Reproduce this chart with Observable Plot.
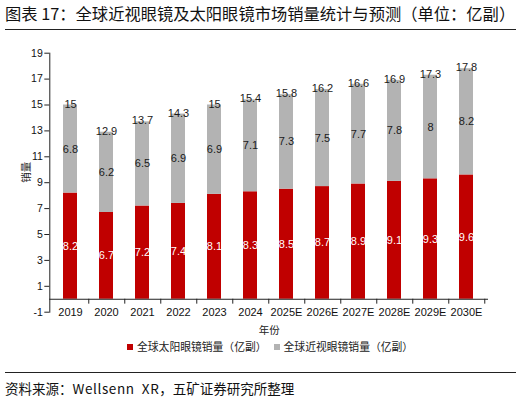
<!DOCTYPE html>
<html>
<head>
<meta charset="utf-8">
<script src="https://cdn.jsdelivr.net/npm/d3@7"></script>
<script src="https://cdn.jsdelivr.net/npm/@observablehq/plot@0.6"></script>
<style>
  html, body { margin: 0; padding: 0; background: #fff; }
  #wrap { position: relative; width: 521px; height: 402px; overflow: hidden;
    font-family: "Liberation Sans", "Noto Sans CJK SC", sans-serif; color: #000; }
  #title { position: absolute; left: 5px; top: 3px; font-size: 16.3px; font-family: "Noto Sans CJK SC", sans-serif; font-weight: 400; line-height: 21px; white-space: nowrap; color: #111; }
  .hline { position: absolute; left: 5px; width: 511px; height: 1px; background: #222; }
  #chart { position: absolute; left: 0; top: 40px; }
  #legend { position: absolute; left: 127px; top: 338px; font-size: 10.8px; font-family: "Noto Sans CJK SC", sans-serif; display: flex; align-items: center; white-space: nowrap; color: #222; line-height: 17px; }
  #legend .sw { display: inline-block; width: 6px; height: 6px; margin-right: 4px; }
  #legend .item { display: flex; align-items: center; margin-right: 7px; }
  #source { position: absolute; left: 5px; top: 379px; font-size: 13.5px; font-family: "Noto Sans CJK SC", sans-serif; line-height: 19px; white-space: nowrap; color: #111; }
  #source .lat { letter-spacing: 0.6px; }
</style>
</head>
<body>
<div id="wrap">
  <div id="title">图表 17：全球近视眼镜及太阳眼镜市场销量统计与预测（单位：亿副）</div>
  <div class="hline" style="top:29px"></div>
  <div id="chart"></div>
  <div id="legend"></div>
  <div class="hline" style="top:372px"></div>
  <div id="source">资料来源：<span class="lat">Wellsenn&nbsp; XR</span>，五矿证券研究所整理</div>
</div>
<script>
const years = ["2019","2020","2021","2022","2023","2024","2025E","2026E","2027E","2028E","2029E","2030E"];
const sunglasses = [8.2, 6.7, 7.2, 7.4, 8.1, 8.3, 8.5, 8.7, 8.9, 9.1, 9.3, 9.6];
const myopia = [6.8, 6.2, 6.5, 6.9, 6.9, 7.1, 7.3, 7.5, 7.7, 7.8, 8, 8.2];
const totals = [15, 12.9, 13.7, 14.3, 15, 15.4, 15.8, 16.2, 16.6, 16.9, 17.3, 17.8];
const yTicks = [-1, 1, 3, 5, 7, 9, 11, 13, 15, 17, 19];
const seriesNames = ["全球太阳眼镜销量（亿副）", "全球近视眼镜销量（亿副）"];
const colors = ["#C00000", "#B3B3B3"];

const data = years.map((y, i) => ({year: y, sun: sunglasses[i], myo: myopia[i], total: totals[i]}));

const W = 521, H = 300;
const mL = 49.3, mR = 33, mT = 12.7, mB = 28.3;
const step = (W - mL - mR) / years.length;

const plot = Plot.plot({
  width: W, height: H,
  marginLeft: mL, marginRight: mR, marginTop: mT, marginBottom: mB,
  style: {fontFamily: "'Liberation Sans', 'Noto Sans CJK SC', sans-serif", fontSize: "10.5px", color: "#000", background: "#fff"},
  x: {type: "band", domain: years, paddingInner: 0.6, paddingOuter: 0.3, axis: null},
  y: {domain: [-1, 19], axis: null},
  marks: [
    Plot.barY(data, {x: "year", y1: 0, y2: "sun", fill: colors[0]}),
    Plot.barY(data, {x: "year", y1: "sun", y2: d => d.sun + d.myo, fill: colors[1]}),
    Plot.text(data, {x: "year", y: d => d.sun / 2, text: d => String(d.sun), fill: "#fff", fontSize: 11}),
    Plot.text(data, {x: "year", y: d => d.sun + d.myo / 2, text: d => String(d.myo), fill: "#1a1a1a", fontSize: 11}),
    Plot.text(data, {x: "year", y: "total", text: d => String(d.total), fill: "#1a1a1a", fontSize: 11, dy: -1}),
    Plot.axisY({ticks: yTicks, tickSize: 5, tickPadding: 2, tickFormat: d => String(d), stroke: "#222", fill: "#111", fontSize: 10.5, label: null}),
    Plot.frame({anchor: "left", stroke: "#222"}),
    Plot.ruleY([0], {stroke: "#222"}),
    Plot.ruleX(data, {x: "year", y1: 0, y2: -0.38, dx: step / 2, stroke: "#222"}),
    Plot.text(data, {x: "year", y: -1, text: "year", fill: "#111", fontSize: 11}),
    Plot.text(["销量"], {frameAnchor: "left", dx: -23, rotate: -90, fill: "#222", fontSize: 10.5, fontFamily: "'Noto Sans CJK SC', sans-serif"}),
    Plot.text(["年份"], {frameAnchor: "bottom", dy: 22, fill: "#222", fontSize: 10.5, fontFamily: "'Noto Sans CJK SC', sans-serif"})
  ]
});
document.getElementById("chart").appendChild(plot);

const legend = document.getElementById("legend");
seriesNames.forEach((name, i) => {
  const item = document.createElement("span");
  item.className = "item";
  const sw = document.createElement("span");
  sw.className = "sw";
  sw.style.background = colors[i];
  item.appendChild(sw);
  item.appendChild(document.createTextNode(name));
  legend.appendChild(item);
});
</script>
</body>
</html>
